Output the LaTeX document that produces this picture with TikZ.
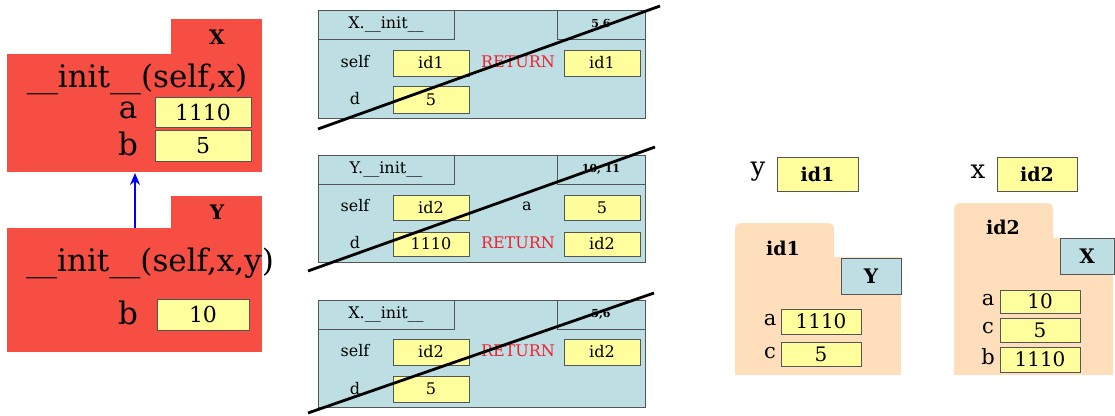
\documentclass[tikz,border=0pt]{standalone}
\usepackage{fontspec}
\setmainfont{DejaVu Serif}
\usetikzlibrary{arrows.meta}
\definecolor{clsred}{HTML}{F64E42}
\definecolor{valyel}{HTML}{FEFE9C}
\definecolor{frblue}{HTML}{BDDFE3}
\definecolor{objpeach}{HTML}{FEDEBB}
\definecolor{bordgray}{HTML}{555555}
\definecolor{retred}{HTML}{F0202E}
\tikzset{
  vbox/.style={draw=bordgray, fill=valyel, line width=0.7pt, inner sep=0pt, anchor=center},
  redpart/.style={fill=clsred, draw=none, inner sep=0pt},
  frpart/.style={fill=frblue, draw=bordgray, line width=0.7pt, inner sep=0pt},
  peachpart/.style={fill=objpeach, draw=none, inner sep=0pt},
  bigtxt/.style={font=\fontsize{31}{34}\selectfont, inner sep=0pt},
  clsname/.style={font=\fontsize{20}{22}\selectfont\bfseries},
  frtxt/.style={font=\fontsize{16}{18}\selectfont, inner sep=0pt},
  frnum/.style={font=\fontsize{11}{13}\selectfont\bfseries},
  rettxt/.style={font=\fontsize{16}{18}\selectfont, text=retred, inner sep=0pt},
  rval/.style={font=\fontsize{20}{22}\selectfont},
  rlab/.style={font=\fontsize{26}{28}\selectfont, inner sep=0pt},
  olab/.style={font=\fontsize{21}{23}\selectfont, inner sep=0pt},
  slash/.style={line width=2.8pt, black},
  inharr/.style={draw=blue, line width=2pt, -{Stealth[length=12pt,width=10pt]}}
}
\begin{document}
\begin{tikzpicture}[x=1pt,y=-1pt]
\useasboundingbox (0,0) rectangle (1115,415);
% ---------- class X ----------
\node[redpart, minimum width=91, minimum height=35] (tabX) at (216.5,36.5) {};
\node[redpart, minimum width=255, minimum height=118] (mainX) at (134.5,113) {};
\node[clsname] (nameX) at (217,37) {X};
\node[bigtxt] (initX) at (137,79) {\_\_init\_\_(self,x)};
\node[bigtxt] (labXa) at (128,110) {a};
\node[vbox, minimum width=96, minimum height=30, font=\fontsize{22}{24}\selectfont] (valXa) at (203,112) {1110};
\node[bigtxt] (labXb) at (128,144) {b};
\node[vbox, minimum width=96, minimum height=31, font=\fontsize{22}{24}\selectfont] (valXb) at (203,145.5) {5};
% ---------- class Y ----------
\node[redpart, minimum width=91, minimum height=32] (tabY) at (216.5,212) {};
\node[redpart, minimum width=255, minimum height=124] (mainY) at (134.5,290) {};
\node[clsname] (nameY) at (217,212) {Y};
\node[bigtxt] (initY) at (150,263) {\_\_init\_\_(self,x,y)};
\node[bigtxt] (labYb) at (128,313) {b};
\node[vbox, minimum width=92, minimum height=31, font=\fontsize{22}{24}\selectfont] (valYb) at (203,314.5) {10};
\coordinate (arrS) at (135,228);
\coordinate (arrE) at (135,173);
\draw[inharr] (arrS) -- (arrE);
% ---------- frame 1 ----------
\node[frpart, minimum width=327, minimum height=108] (f1) at (481.5,64) {};
\node[frpart, minimum width=136, minimum height=29, font=\fontsize{16}{18}\selectfont] (f1h) at (386,24.5) {X.\_\_init\_\_};
\node[frpart, minimum width=88, minimum height=29, frnum] (f1n) at (601,24.5) {5,6};
\node[frtxt] (f1self) at (355,62) {self};
\node[vbox, minimum width=76, minimum height=26, frtxt] (f1v1) at (431,63) {id1};
\node[rettxt] (f1ret) at (518,62) {RETURN};
\node[vbox, minimum width=76, minimum height=26, frtxt] (f1v2) at (602,63) {id1};
\node[frtxt] (f1d) at (355,99) {d};
\node[vbox, minimum width=76, minimum height=27, frtxt] (f1v3) at (431,99.5) {5};
\coordinate (s1a) at (318,129);
\coordinate (s1b) at (660,6);
\draw[slash] (s1a) -- (s1b);
% ---------- frame 2 ----------
\node[frpart, minimum width=327, minimum height=107] (f2) at (481.5,208.5) {};
\node[frpart, minimum width=136, minimum height=29, font=\fontsize{16}{18}\selectfont] (f2h) at (386,169.5) {Y.\_\_init\_\_};
\node[frpart, minimum width=88, minimum height=29, frnum] (f2n) at (601,169.5) {10, 11};
\node[frtxt] (f2self) at (355,206) {self};
\node[vbox, minimum width=76, minimum height=25, frtxt] (f2v1) at (431,207.5) {id2};
\node[frtxt] (f2a) at (527,206) {a};
\node[vbox, minimum width=76, minimum height=25, frtxt] (f2v2) at (602,207.5) {5};
\node[frtxt] (f2d) at (355,243) {d};
\node[vbox, minimum width=76, minimum height=24, frtxt] (f2v3) at (431,244) {1110};
\node[rettxt] (f2ret) at (518,243) {RETURN};
\node[vbox, minimum width=76, minimum height=24, frtxt] (f2v4) at (602,244) {id2};
\coordinate (s2a) at (308,271);
\coordinate (s2b) at (655,147);
\draw[slash] (s2a) -- (s2b);
% ---------- frame 3 ----------
\node[frpart, minimum width=327, minimum height=107] (f3) at (481.5,353.5) {};
\node[frpart, minimum width=136, minimum height=29, font=\fontsize{16}{18}\selectfont] (f3h) at (386,314.5) {X.\_\_init\_\_};
\node[frpart, minimum width=88, minimum height=29, frnum] (f3n) at (601,314.5) {5,6};
\node[frtxt] (f3self) at (355,351) {self};
\node[vbox, minimum width=76, minimum height=26, frtxt] (f3v1) at (431,352) {id2};
\node[rettxt] (f3ret) at (518,351) {RETURN};
\node[vbox, minimum width=76, minimum height=26, frtxt] (f3v2) at (602,352) {id2};
\node[frtxt] (f3d) at (355,389) {d};
\node[vbox, minimum width=76, minimum height=26, frtxt] (f3v3) at (431,389) {5};
\coordinate (s3a) at (308,413);
\coordinate (s3b) at (654,293);
\draw[slash] (s3a) -- (s3b);
% ---------- globals ----------
\node[rlab] (gy) at (758,172) {y};
\node[vbox, minimum width=81, minimum height=34, font=\fontsize{19}{21}\selectfont\bfseries] (gyv) at (817.5,174) {id1};
\node[rlab] (gx) at (978,172) {x};
\node[vbox, minimum width=80, minimum height=34, font=\fontsize{19}{21}\selectfont\bfseries] (gxv) at (1037,174) {id2};
% ---------- object id1 ----------
\node[peachpart, rounded corners=6pt, minimum width=99, minimum height=67] (o1tab) at (784.5,256.5) {};
\node[peachpart, minimum width=166, minimum height=118] (o1body) at (818,316) {};
\node[font=\fontsize{19}{21}\selectfont\bfseries] (o1id) at (783,248) {id1};
\node[frpart, minimum width=60, minimum height=36, clsname] (o1cls) at (871,276) {Y};
\node[olab] (o1a) at (770,320) {a};
\node[vbox, minimum width=80, minimum height=25, rval] (o1av) at (821,321.5) {1110};
\node[olab] (o1c) at (770,353) {c};
\node[vbox, minimum width=80, minimum height=24, rval] (o1cv) at (821,354) {5};
% ---------- object id2 ----------
\node[peachpart, rounded corners=6pt, minimum width=99, minimum height=67] (o2tab) at (1003.5,236.5) {};
\node[peachpart, minimum width=159, minimum height=137] (o2body) at (1033.5,306.5) {};
\node[font=\fontsize{19}{21}\selectfont\bfseries] (o2id) at (1003,227) {id2};
\node[frpart, minimum width=54, minimum height=36, clsname] (o2cls) at (1087,256) {X};
\node[olab] (o2a) at (988,300) {a};
\node[vbox, minimum width=80, minimum height=23, rval] (o2av) at (1040,301.5) {10};
\node[olab] (o2c) at (988,328) {c};
\node[vbox, minimum width=80, minimum height=24, rval] (o2cv) at (1040,330) {5};
\node[olab] (o2b) at (988,357) {b};
\node[vbox, minimum width=80, minimum height=25, rval] (o2bv) at (1040,359.5) {1110};
\end{tikzpicture}
\end{document}
